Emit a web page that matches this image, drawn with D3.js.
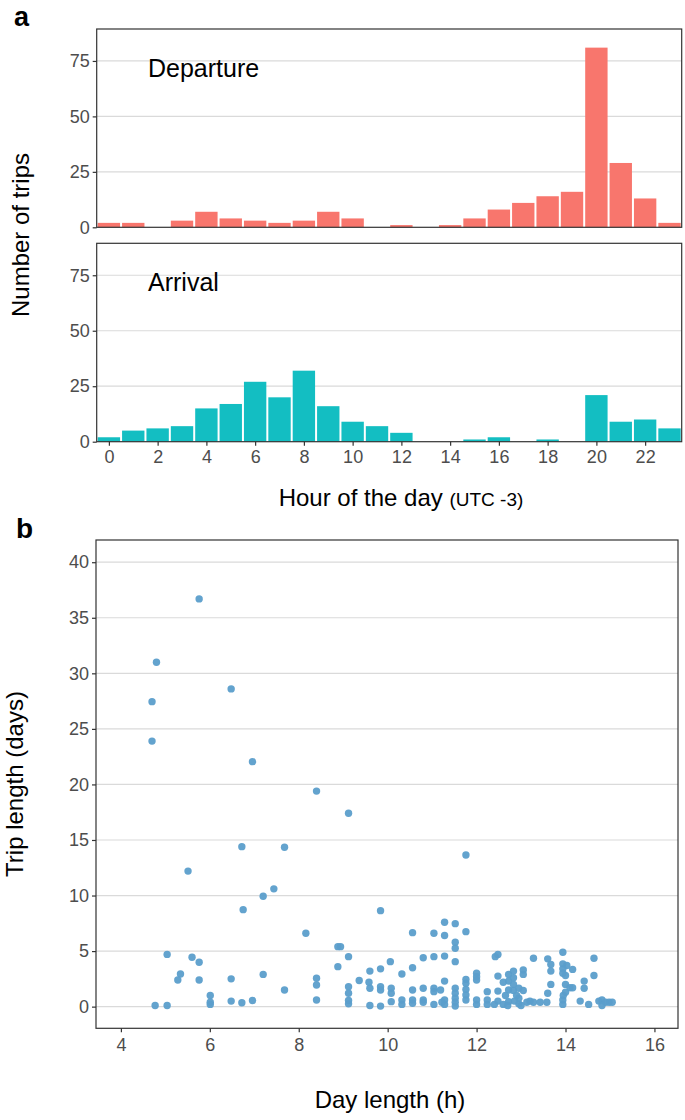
<!DOCTYPE html>
<html><head><meta charset="utf-8">
<script src="https://cdn.jsdelivr.net/npm/d3@7"></script>
<style>body{margin:0;background:#fff}svg text{font-family:"Liberation Sans",Arial,sans-serif}</style>
</head><body><svg id="c" width="685" height="1120"></svg>
<script>
const hours = d3.range(0, 24);
const departure = [2,2,0,3,7,4,3,2,3,7,4,0,1,0,1,4,8,11,14,16,81,29,13,2];
const arrival   = [2,5,6,7,15,17,27,20,32,16,9,7,4,0,0,1,2,0,1,0,21,9,10,6];
const hourTicks = [0,2,4,6,8,10,12,14,16,18,20,22];
const countTicks = [0,25,50,75];
const dayLength = [5.76,4.80,6.48,4.70,4.70,6.96,8.40,9.12,6.72,7.68,11.76,5.51,7.44,7.20,6.75,9.84,8.16,8.88,8.94,5.04,5.60,5.76,9.12,8.88,5.34,5.28,5.76,6.48,7.20,8.40,8.40,8.40,7.68,6.01,6.01,6.01,4.77,5.04,6.48,6.72,6.96,9.36,9.12,9.12,9.12,9.12,9.60,9.84,9.58,9.60,9.84,9.84,9.60,9.84,10.06,10.08,10.08,10.08,11.28,11.52,10.56,11.04,11.28,11.76,11.52,11.52,11.52,10.56,10.32,10.80,11.04,11.28,11.28,11.76,11.76,11.76,11.76,11.76,12.0,12.0,12.0,12.0,12.0,10.32,10.32,10.56,10.56,10.56,10.80,10.80,10.80,11.04,11.04,11.04,11.19,11.28,11.28,11.22,11.52,11.52,11.52,11.52,11.52,12.24,12.24,12.24,12.42,12.48,12.48,12.48,12.48,12.72,12.72,12.72,12.72,12.83,12.83,12.83,12.83,12.95,12.95,12.95,13.05,13.05,13.05,13.13,13.28,13.28,13.43,13.58,13.60,13.60,13.67,13.67,13.67,13.94,13.94,14.03,13.94,13.94,14.16,14.0,14.0,14.1,14.16,13.94,13.94,14.33,14.42,14.42,14.52,14.64,14.64,14.75,14.82,14.9,14.98,15.05,14.82,12.6,12.65,12.9,13.2,12.4,12.6,12.85,12.7,13.0,14.0,13.95];
const tripLength = [36.7,31.0,28.6,27.45,23.9,22.05,19.4,17.4,14.4,14.35,13.65,12.2,10.6,9.94,8.73,8.64,6.6,5.4,5.4,4.7,4.45,4.0,4.5,3.6,2.94,2.4,2.4,2.5,2.9,2.55,1.95,0.6,1.5,1.0,0.4,0.2,0.1,0.1,0.5,0.35,0.55,2.35,1.8,1.2,0.55,0.25,3.2,3.4,2.2,1.65,1.8,1.5,0.1,0.05,4.05,1.65,1.2,0.45,7.6,7.47,6.66,6.6,6.4,6.75,5.8,5.25,4.05,3.5,2.94,4.4,4.5,4.55,2.3,2.45,2.1,1.55,1.05,0.6,3.0,2.7,2.4,0.6,0.2,0.6,0.2,1.5,0.6,0.3,1.65,0.6,0.4,1.65,1.35,0.2,1.5,0.6,0.2,0.4,1.65,1.2,0.75,0.4,0.05,1.35,0.6,0.2,4.5,4.7,2.75,1.4,0.5,2.9,2.3,1.5,0.45,3.2,2.6,2.0,1.45,1.65,0.75,0.25,3.3,2.9,1.45,0.4,4.35,0.4,0.4,0.4,1.2,4.3,3.8,3.2,2.0,4.9,3.85,3.7,3.4,3.0,3.35,2.8,2.0,1.7,1.7,0.6,0.2,0.5,2.3,1.65,0.2,4.35,2.8,0.5,0.6,0.4,0.4,0.4,0.1,2.2,1.0,1.0,0.5,0.2,0.2,0.5,0.1,0.1,1.3,1.0];
const dayTicks = [4,6,8,10,12,14,16];
const tripTicks = [0,5,10,15,20,25,30,35,40];

const svg = d3.select("#c");
const tickCol = "#4d4d4d", gridCol = "#dadada", frameCol = "#333333";
const tickFont = 18, titleFont = 24;

// ----- panel a -----
const x = d3.scaleLinear().domain([-0.5, 23.5]).range([96.7, 681.7]);
const step = x(1) - x(0);
function histPanel(vals, top, bottom, color, label, showX) {
  const y = d3.scaleLinear().domain([0, 89.4]).range([bottom, top]);
  const g = svg.append("g");
  g.selectAll("line.grid").data(countTicks.filter(t => t > 0)).join("line")
    .attr("x1", x.range()[0]).attr("x2", x.range()[1])
    .attr("y1", d => y(d)).attr("y2", d => y(d))
    .attr("stroke", gridCol).attr("stroke-width", 1.2);
  g.selectAll("rect.bar").data(hours.map(h => ({h, v: vals[h]})).filter(d => d.v > 0)).join("rect")
    .attr("x", d => x(d.h - 0.5) + 1).attr("width", step - 2)
    .attr("y", d => y(d.v)).attr("height", d => y(0) - y(d.v))
    .attr("fill", color);
  const ya = d3.axisLeft(y).tickValues(countTicks).tickSize(4).tickPadding(3);
  const ag = g.append("g").attr("transform", `translate(${x.range()[0]},0)`).call(ya);
  ag.select(".domain").remove();
  ag.selectAll("line").attr("stroke", frameCol).attr("stroke-width", 1.2);
  ag.selectAll("text").attr("fill", tickCol).attr("font-size", tickFont);
  if (showX) {
    const xa = d3.axisBottom(x).tickValues(hourTicks).tickSize(4).tickPadding(5);
    const xg = g.append("g").attr("transform", `translate(0,${bottom})`).call(xa);
    xg.select(".domain").remove();
    xg.selectAll("line").attr("stroke", frameCol).attr("stroke-width", 1.2);
    xg.selectAll("text").attr("fill", tickCol).attr("font-size", tickFont);
  }
  g.append("rect").attr("x", x.range()[0]).attr("y", top)
    .attr("width", x.range()[1] - x.range()[0]).attr("height", bottom - top)
    .attr("fill", "none").attr("stroke", frameCol).attr("stroke-width", 1.2);
  g.append("text").attr("x", 148).attr("y", top + 48).attr("font-size", 25).attr("fill", "#000").text(label);
}
histPanel(departure, 29, 227.3, "#F8766D", "Departure", false);
histPanel(arrival, 243.3, 441.7, "#13BEC2", "Arrival", true);

svg.append("text").attr("x", 14).attr("y", 26).attr("font-size", 27).attr("font-weight", "bold").text("a");
svg.append("text").attr("transform", "translate(29,235) rotate(-90)").attr("text-anchor", "middle")
  .attr("font-size", titleFont).text("Number of trips");
const xt = svg.append("text").attr("x", 401).attr("y", 506).attr("text-anchor", "middle").attr("font-size", titleFont);
xt.append("tspan").text("Hour of the day ");
xt.append("tspan").attr("font-size", 19).text(" (UTC -3)");

// ----- panel b -----
svg.append("text").attr("x", 16).attr("y", 538).attr("font-size", 28).attr("font-weight", "bold").text("b");
const sx = d3.scaleLinear().domain([3.44, 16.53]).range([96, 678]);
const sy = d3.scaleLinear().domain([-1.95, 42.0]).range([1028.3, 540]);
const sg = svg.append("g");
sg.selectAll("line.grid").data(tripTicks).join("line")
  .attr("x1", sx.range()[0]).attr("x2", sx.range()[1])
  .attr("y1", d => sy(d)).attr("y2", d => sy(d))
  .attr("stroke", gridCol).attr("stroke-width", 1.2);
sg.selectAll("circle").data(dayLength.map((d, i) => [d, tripLength[i]])).join("circle")
  .attr("cx", d => sx(d[0])).attr("cy", d => sy(d[1])).attr("r", 3.7)
  .attr("fill", "#5B9ECB").attr("fill-opacity", 0.95);
const sya = sg.append("g").attr("transform", `translate(${sx.range()[0]},0)`)
  .call(d3.axisLeft(sy).tickValues(tripTicks).tickSize(4).tickPadding(3));
sya.select(".domain").remove();
sya.selectAll("line").attr("stroke", frameCol).attr("stroke-width", 1.2);
sya.selectAll("text").attr("fill", tickCol).attr("font-size", tickFont);
const sxa = sg.append("g").attr("transform", `translate(0,${sy.range()[0]})`)
  .call(d3.axisBottom(sx).tickValues(dayTicks).tickSize(4).tickPadding(6));
sxa.select(".domain").remove();
sxa.selectAll("line").attr("stroke", frameCol).attr("stroke-width", 1.2);
sxa.selectAll("text").attr("fill", tickCol).attr("font-size", tickFont);
sg.append("rect").attr("x", sx.range()[0]).attr("y", sy.range()[1])
  .attr("width", sx.range()[1] - sx.range()[0]).attr("height", sy.range()[0] - sy.range()[1])
  .attr("fill", "none").attr("stroke", frameCol).attr("stroke-width", 1.2);
svg.append("text").attr("transform", "translate(23,784) rotate(-90)").attr("text-anchor", "middle")
  .attr("font-size", titleFont).text("Trip length (days)");
svg.append("text").attr("x", 390).attr("y", 1108).attr("text-anchor", "middle")
  .attr("font-size", titleFont).text("Day length (h)");
</script></body></html>
